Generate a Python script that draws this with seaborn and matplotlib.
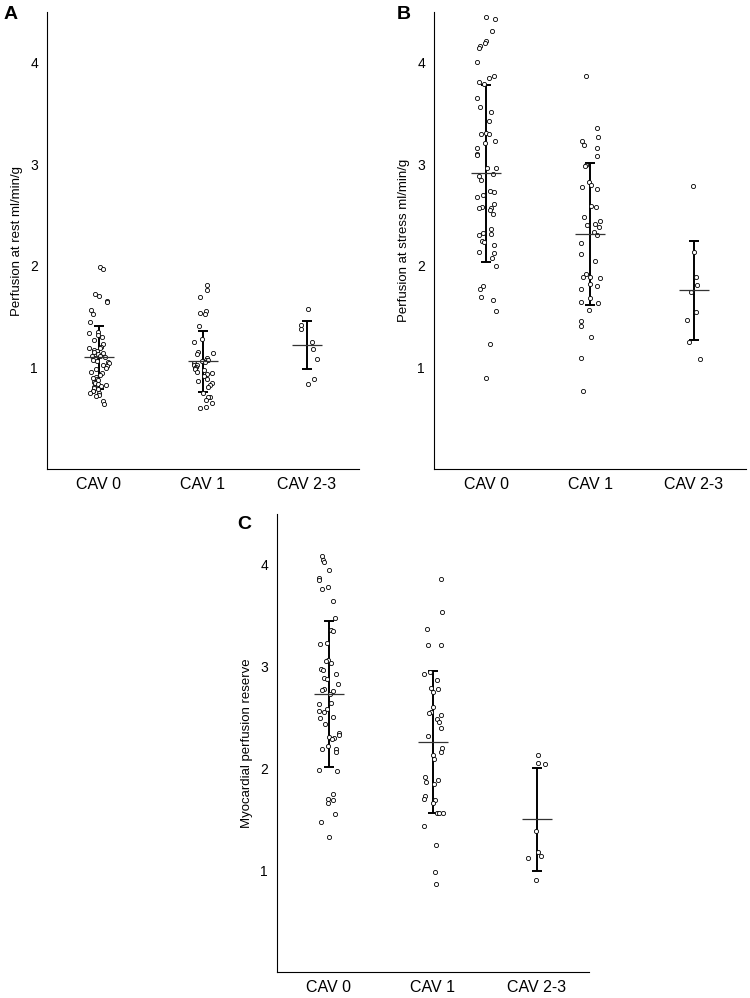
import numpy as np
import pandas as pd
import seaborn as sns
from matplotlib import pyplot as plt

GROUPS = ["CAV 0", "CAV 1", "CAV 2-3"]

# panel A - perfusion at rest
rest_cav0 = [1.99, 1.97, 1.72, 1.70, 1.65, 1.64, 1.57, 1.53, 1.45, 1.35, 1.34, 1.32,
             1.30, 1.27, 1.23, 1.20, 1.19, 1.19, 1.17, 1.16, 1.15, 1.14, 1.13, 1.11,
             1.11, 1.10, 1.09, 1.07, 1.06, 1.05, 1.04, 1.02, 1.01, 0.99, 0.98, 0.96,
             0.95, 0.93, 0.91, 0.90, 0.89, 0.88, 0.86, 0.85, 0.84, 0.83, 0.82, 0.81,
             0.80, 0.79, 0.77, 0.77, 0.75, 0.75, 0.73, 0.72, 0.67, 0.64]
rest_cav1 = [1.81, 1.76, 1.69, 1.56, 1.54, 1.53, 1.41, 1.28, 1.25, 1.15, 1.14, 1.13,
             1.09, 1.07, 1.07, 1.06, 1.05, 1.04, 1.02, 1.02, 1.00, 0.99, 0.98, 0.97,
             0.96, 0.95, 0.94, 0.92, 0.89, 0.87, 0.85, 0.83, 0.81, 0.75, 0.71, 0.71,
             0.68, 0.65, 0.61, 0.60]
rest_cav23 = [1.58, 1.42, 1.38, 1.25, 1.18, 1.08, 0.89, 0.84]
rest_mean = [1.10, 1.06, 1.22]
rest_sd = [0.31, 0.30, 0.24]

# panel B - perfusion at stress
stress_cav0 = [4.54, 4.45, 4.43, 4.31, 4.21, 4.19, 4.17, 4.15, 4.01, 3.87, 3.85, 3.81,
               3.79, 3.65, 3.56, 3.52, 3.43, 3.31, 3.30, 3.30, 3.23, 3.21, 3.16, 3.10,
               3.09, 2.96, 2.96, 2.90, 2.89, 2.85, 2.74, 2.73, 2.70, 2.68, 2.61, 2.58,
               2.57, 2.57, 2.55, 2.51, 2.36, 2.32, 2.31, 2.30, 2.25, 2.24, 2.21, 2.14,
               2.13, 2.08, 2.00, 1.80, 1.77, 1.69, 1.66, 1.56, 1.23, 0.90]
stress_cav1 = [3.87, 3.36, 3.27, 3.23, 3.19, 3.16, 3.08, 2.99, 2.98, 2.83, 2.80, 2.78,
               2.76, 2.59, 2.58, 2.48, 2.44, 2.41, 2.40, 2.38, 2.33, 2.30, 2.23, 2.12,
               2.05, 1.92, 1.89, 1.89, 1.88, 1.82, 1.80, 1.77, 1.68, 1.64, 1.63, 1.57,
               1.46, 1.41, 1.30, 1.09, 0.77]
stress_cav23 = [2.79, 2.14, 1.89, 1.81, 1.74, 1.55, 1.47, 1.25, 1.08]
stress_mean = [2.91, 2.31, 1.76]
stress_sd = [0.87, 0.70, 0.49]

# panel C - myocardial perfusion reserve
mpr_cav0 = [4.09, 4.05, 4.03, 3.95, 3.87, 3.85, 3.78, 3.76, 3.65, 3.48, 3.36, 3.35,
            3.23, 3.22, 3.07, 3.06, 3.04, 2.98, 2.97, 2.93, 2.89, 2.88, 2.83, 2.78,
            2.77, 2.76, 2.73, 2.64, 2.63, 2.58, 2.56, 2.55, 2.51, 2.50, 2.44, 2.35,
            2.33, 2.31, 2.30, 2.29, 2.22, 2.19, 2.19, 2.16, 1.98, 1.97, 1.75, 1.70,
            1.69, 1.66, 1.55, 1.47, 1.33]
mpr_cav1 = [3.86, 3.54, 3.37, 3.21, 3.21, 2.95, 2.93, 2.87, 2.79, 2.78, 2.75, 2.60,
            2.55, 2.54, 2.53, 2.49, 2.46, 2.40, 2.32, 2.20, 2.16, 2.13, 2.09, 1.92,
            1.89, 1.87, 1.85, 1.73, 1.70, 1.69, 1.66, 1.56, 1.56, 1.56, 1.43, 1.25,
            0.98, 0.86]
mpr_cav23 = [2.13, 2.05, 2.04, 1.39, 1.18, 1.14, 1.12, 0.90]
mpr_mean = [2.73, 2.26, 1.50]
mpr_sd = [0.715, 0.70, 0.505]

PANELS = [
    ("A", "Perfusion at rest ml/min/g", [rest_cav0, rest_cav1, rest_cav23], rest_mean, rest_sd,
     [47 / 750, 1 - 469 / 998, 312 / 750, 457 / 998], (4 / 750, 1 - 6 / 998)),
    ("B", "Perfusion at stress ml/min/g", [stress_cav0, stress_cav1, stress_cav23], stress_mean, stress_sd,
     [434 / 750, 1 - 469 / 998, 312 / 750, 457 / 998], (397 / 750, 1 - 6 / 998)),
    ("C", "Myocardial perfusion reserve", [mpr_cav0, mpr_cav1, mpr_cav23], mpr_mean, mpr_sd,
     [277 / 750, 1 - 972 / 998, 312 / 750, 458 / 998], (237 / 750, 1 - 516 / 998)),
]


def long_frame(groups_values):
    rows = []
    for group, values in zip(GROUPS, groups_values):
        for v in values:
            rows.append({"group": group, "value": v})
    return pd.DataFrame(rows)


def main():
    sns.set_style("white")
    plt.rcParams["font.family"] = ["Liberation Sans", "DejaVu Sans"]
    plt.rcParams["text.color"] = "black"
    plt.rcParams["axes.labelcolor"] = "black"
    plt.rcParams["xtick.color"] = "black"
    plt.rcParams["ytick.color"] = "black"
    np.random.seed(3)

    fig = plt.figure(figsize=(7.5, 9.98), dpi=100)

    for letter, ylabel, values, means, sds, rect, letter_xy in PANELS:
        ax = fig.add_axes(rect)
        df = long_frame(values)

        sns.stripplot(
            data=df, x="group", y="value", order=GROUPS, ax=ax,
            jitter=0.1, size=3.0, color="white", edgecolor="black", linewidth=0.6,
            zorder=3,
        )

        xpos = np.arange(len(GROUPS))
        ax.errorbar(xpos, means, yerr=sds, fmt="none", ecolor="black",
                    elinewidth=1.4, capsize=3.5, capthick=1.4, zorder=2)
        ax.hlines(means, xpos - 0.14, xpos + 0.14, colors="#333333", lw=0.9, zorder=4)

        ax.set_xlim(-0.5, 2.5)
        ax.set_ylim(0, 4.5)
        ax.set_yticks([1, 2, 3, 4])
        ax.set_xlabel("")
        ax.set_ylabel(ylabel, fontsize=9.5)
        ax.yaxis.set_label_coords(-0.078, 0.5)
        ax.tick_params(axis="y", length=0, pad=6.5, labelsize=10)
        ax.tick_params(axis="x", length=0, pad=6, labelsize=11.5)

        sns.despine(ax=ax)
        for side in ["left", "bottom"]:
            ax.spines[side].set_color("black")
            ax.spines[side].set_linewidth(0.8)

        fig.text(letter_xy[0], letter_xy[1], letter, fontsize=14, fontweight="bold",
                 ha="left", va="top")

    plt.savefig("out.png", dpi=100)
    plt.close()


if __name__ == "__main__":
    main()
